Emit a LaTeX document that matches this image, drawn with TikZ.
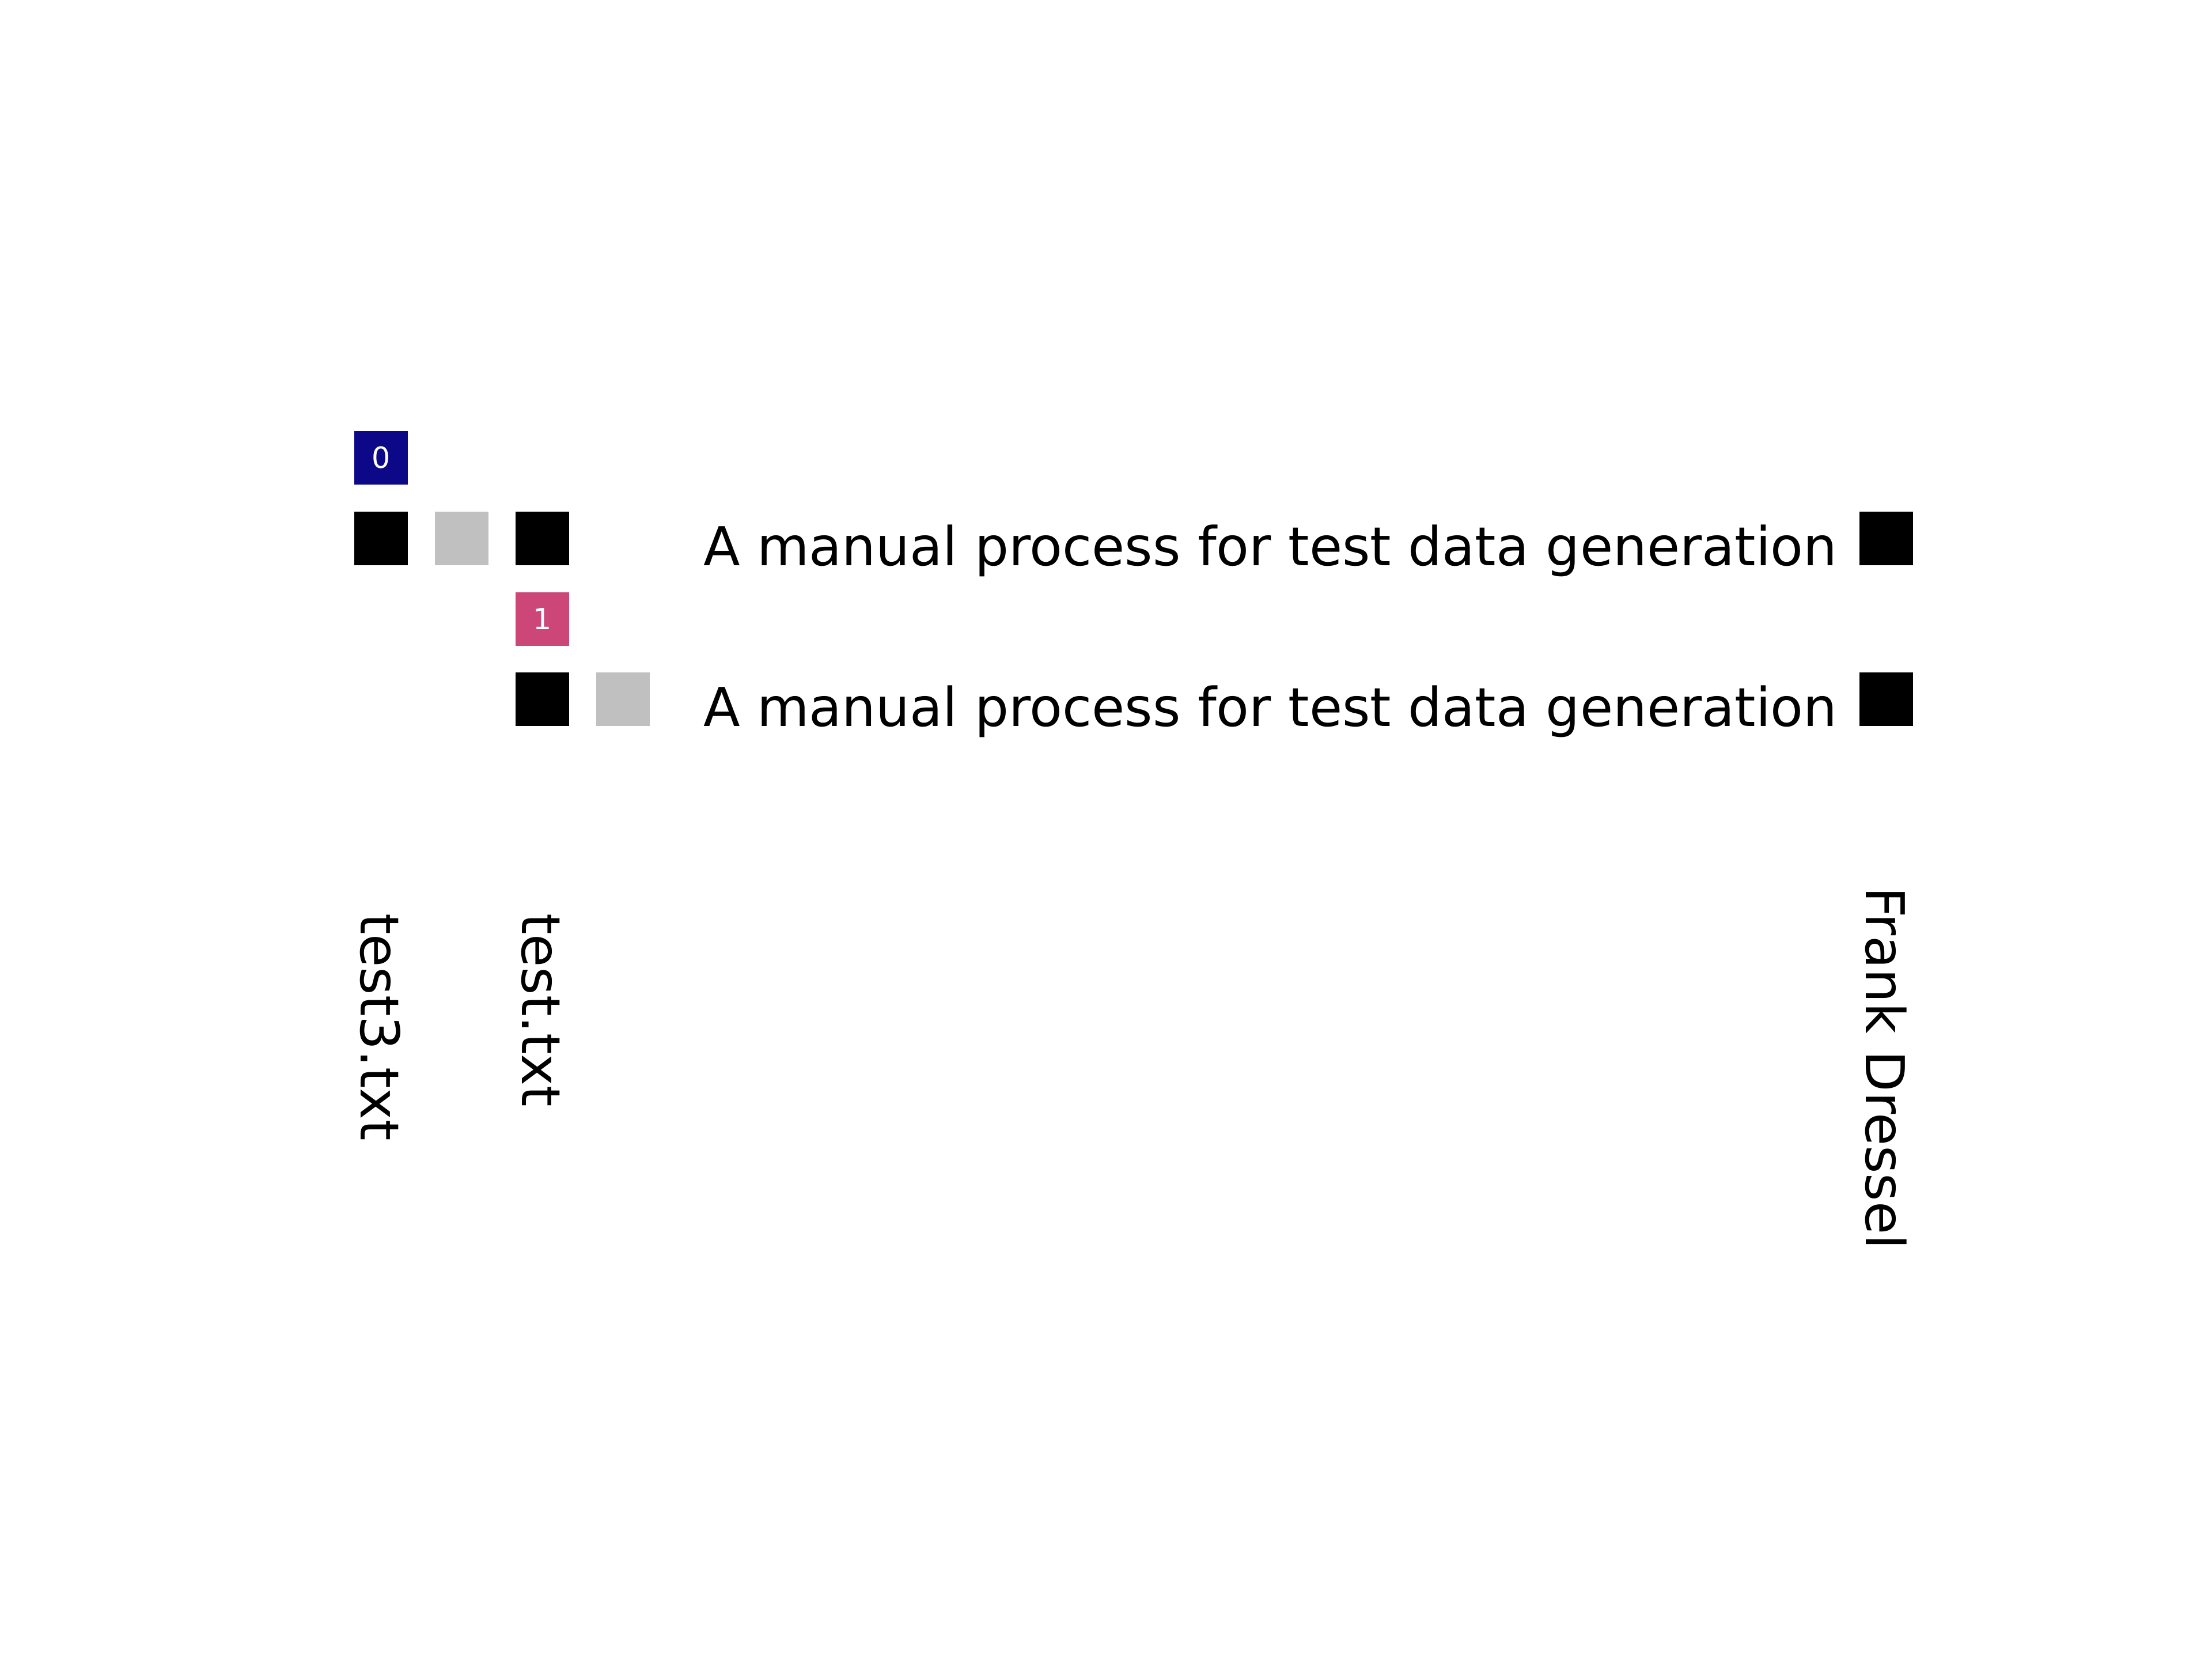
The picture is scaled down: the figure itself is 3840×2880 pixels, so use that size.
\documentclass[tikz,border=0pt]{standalone}
\usepackage{fontspec}
\setmainfont{DejaVu Sans}
\definecolor{plasmablue}{HTML}{0D0887}
\definecolor{plasmapink}{HTML}{CC4778}
\definecolor{silvergrey}{HTML}{C0C0C0}
\begin{document}
\begin{tikzpicture}[x=0.01cm,y=-0.01cm,
  cell/.style={minimum width=0.93cm,minimum height=0.93cm,inner sep=0pt,outer sep=0pt,anchor=center},
  blk/.style={cell,fill=black},
  gry/.style={cell,fill=silvergrey},
  lab/.style={cell,text=white,font=\fontsize{14.4pt}{16pt}\selectfont},
  big/.style={font=\fontsize{26.45pt}{30pt}\selectfont,inner sep=0pt,outer sep=0pt,anchor=base west},
  vlab/.style={big,rotate=-90}]
\useasboundingbox (0,0) rectangle (3840,2880);
% label row
\node[lab,fill=plasmablue] (l0) at (661.5,794.5) {0};
% row 1
\node[blk] (a0) at (661.5,934.5) {};
\node[gry] (a1) at (801.5,934.5) {};
\node[blk] (a2) at (941.5,934.5) {};
\node[big] (t1) at (1221,981.5) {A manual process for test data generation};
\node[blk] (ar) at (3274.5,934.5) {};
% label 1
\node[lab,fill=plasmapink] (l1) at (941.5,1074.5) {1};
% row 2
\node[blk] (b2) at (941.5,1213.5) {};
\node[gry] (b3) at (1081.5,1213.5) {};
\node[big] (t2) at (1221,1260.5) {A manual process for test data generation};
\node[blk] (br) at (3274.5,1213.5) {};
% vertical labels
\node[vlab] (f0) at (626.5,1585) {test3.txt};
\node[vlab] (f2) at (906.5,1585) {test.txt};
\node[vlab] (au) at (3239.5,1539) {Frank Dressel};
\end{tikzpicture}
\end{document}
